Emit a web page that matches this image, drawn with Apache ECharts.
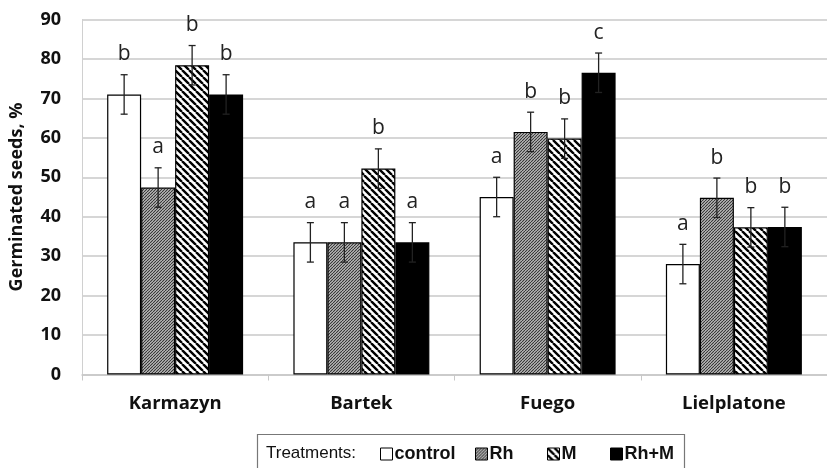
<!DOCTYPE html>
<html>
<head>
<meta charset="utf-8">
<script src="https://cdn.jsdelivr.net/npm/echarts@6/dist/echarts.min.js"></script>
<style>
  html, body { margin: 0; padding: 0; background: #fff; }
  #chart { width: 827px; height: 468px; }
</style>
</head>
<body>
<div id="chart"></div>
<script>
// Germination of seeds per cultivar under four treatments
const cultivars = ['Karmazyn', 'Bartek', 'Fuego', 'Lielplatone'];
const treatments = ['control', 'Rh', 'M', 'Rh+M'];

const controlVals = [71.0, 33.5, 45.0, 28.0];
const rhVals      = [47.4, 33.5, 61.5, 44.8];
const mVals       = [78.4, 52.2, 59.8, 37.3];
const rhmVals     = [71.0, 33.5, 76.5, 37.4];

const controlErr = [5, 5, 5, 5];
const rhErr      = [5, 5, 5, 5];
const mErr       = [5, 5, 5, 5];
const rhmErr     = [5, 5, 5, 5];

const controlLetters = ['b', 'a', 'a', 'a'];
const rhLetters      = ['a', 'a', 'b', 'b'];
const mLetters       = ['b', 'b', 'b', 'b'];
const rhmLetters     = ['b', 'a', 'c', 'b'];

const yTicks = { min: 0, max: 90, step: 10 };

const values  = [controlVals, rhVals, mVals, rhmVals];
const errors  = [controlErr, rhErr, mErr, rhmErr];
const letters = [controlLetters, rhLetters, mLetters, rhmLetters];

// Hatch fills built on small tiles
function hatchTile(size, bg, stroke, width, dir) {
  const c = document.createElement('canvas');
  c.width = size; c.height = size;
  const g = c.getContext('2d');
  g.fillStyle = bg; g.fillRect(0, 0, size, size);
  g.strokeStyle = stroke; g.lineWidth = width;
  g.beginPath();
  for (let k = -1; k <= 1; k++) {
    if (dir > 0) { // rising "/"
      g.moveTo(k * size, size); g.lineTo(k * size + size, 0);
    } else {       // falling "\"
      g.moveTo(k * size, 0); g.lineTo(k * size + size, size);
    }
  }
  g.stroke();
  return c;
}
const rhFill = { image: hatchTile(3, '#c8c8c8', '#333', 1.1, 1), repeat: 'repeat' };
const mFill  = { image: hatchTile(7, '#ffffff', '#000', 2.4, -1), repeat: 'repeat' };
const fills  = ['#ffffff', rhFill, mFill, '#000000'];

const CAT_GAP = 0.27;
const nSeries = treatments.length;

const barSeries = treatments.map((name, i) => ({
  name: name,
  type: 'bar',
  data: values[i],
  barGap: '0%',
  barCategoryGap: (CAT_GAP * 100) + '%',
  itemStyle: { color: fills[i], borderColor: '#000', borderWidth: 1.2 },
  emphasis: { disabled: true },
  z: 2
}));

// Error bars and significance letters drawn over each bar
const errData = [];
for (let i = 0; i < nSeries; i++) {
  for (let j = 0; j < cultivars.length; j++) {
    errData.push([j, values[i][j], errors[i][j], i, letters[i][j]]);
  }
}
const errSeries = {
  type: 'custom',
  name: 'errors',
  data: errData,
  z: 5,
  silent: true,
  encode: { x: 0, y: 1 },
  renderItem: function (params, api) {
    const cat = api.value(0), v = api.value(1), e = api.value(2), si = api.value(3);
    const letter = errData[params.dataIndex][4];
    const catW = api.size([1, 0])[0];
    const barW = catW * (1 - CAT_GAP) / nSeries;
    const center = api.coord([cat, v]);
    const x = center[0] + (si - (nSeries - 1) / 2) * barW;
    const hi = api.coord([cat, v + e])[1];
    const lo = api.coord([cat, v - e])[1];
    const cap = 3.5;
    const st = { stroke: '#222', lineWidth: 1.3 };
    return {
      type: 'group',
      children: [
        { type: 'line', shape: { x1: x, y1: hi, x2: x, y2: lo }, style: st },
        { type: 'line', shape: { x1: x - cap, y1: hi, x2: x + cap, y2: hi }, style: st },
        { type: 'line', shape: { x1: x - cap, y1: lo, x2: x + cap, y2: lo }, style: st },
        { type: 'text', style: {
            text: letter, x: x, y: hi - 10,
            align: 'center', verticalAlign: 'bottom',
            font: '21px "Open Sans"', fill: '#222'
        } }
      ]
    };
  }
};

// One legend block per treatment so each entry sits at its own spot
const legendLefts = [375, 470, 542, 605];
const legends = treatments.map((name, i) => ({
  data: [name],
  left: legendLefts[i], top: 440,
  itemWidth: 12, itemHeight: 12,
  icon: 'rect',
  selectedMode: false,
  textStyle: { fontFamily: 'Liberation Sans', fontWeight: 'bold', fontSize: 18, color: '#111', padding: [0, 0, 0, -3] },
  itemStyle: { borderColor: '#000', borderWidth: 1 }
}));

const chart = echarts.init(document.getElementById('chart'), null, { renderer: 'canvas' });
chart.setOption({
  animation: false,
  backgroundColor: '#ffffff',
  grid: { left: 79, top: 19.5, width: 756, height: 355 },
  xAxis: {
    type: 'category',
    data: cultivars,
    axisLine: { lineStyle: { color: '#c8c8c8', width: 1.5 } },
    axisTick: { show: true, length: 6, lineStyle: { color: '#c8c8c8', width: 1 } },
    axisLabel: {
      margin: 20, color: '#111',
      fontFamily: 'Open Sans', fontWeight: 'bold', fontSize: 18.5
    }
  },
  yAxis: {
    type: 'value',
    min: yTicks.min, max: yTicks.max, interval: yTicks.step,
    name: 'Germinated seeds, %',
    nameLocation: 'middle',
    nameGap: 56,
    nameTextStyle: { fontFamily: 'Open Sans', fontWeight: 'bold', fontSize: 18, color: '#111' },
    axisLine: { show: true, lineStyle: { color: '#d0d0d0', width: 1 } },
    axisTick: { show: false },
    axisLabel: {
      margin: 21, color: '#111',
      fontFamily: 'Open Sans', fontWeight: 'bold', fontSize: 18
    },
    splitLine: { lineStyle: { color: '#c8c8c8', width: 1.5 } }
  },
  legend: legends,
  graphic: [
    { type: 'rect', left: 255, top: 432, shape: { width: 427, height: 50 },
      style: { fill: 'none', stroke: '#777', lineWidth: 1.2 }, silent: true },
    { type: 'text', left: 266, top: 445,
      style: { text: 'Treatments:', font: '17px "Liberation Sans"', fill: '#111' }, silent: true }
  ],
  series: barSeries.concat([errSeries])
});
</script>
</body>
</html>
